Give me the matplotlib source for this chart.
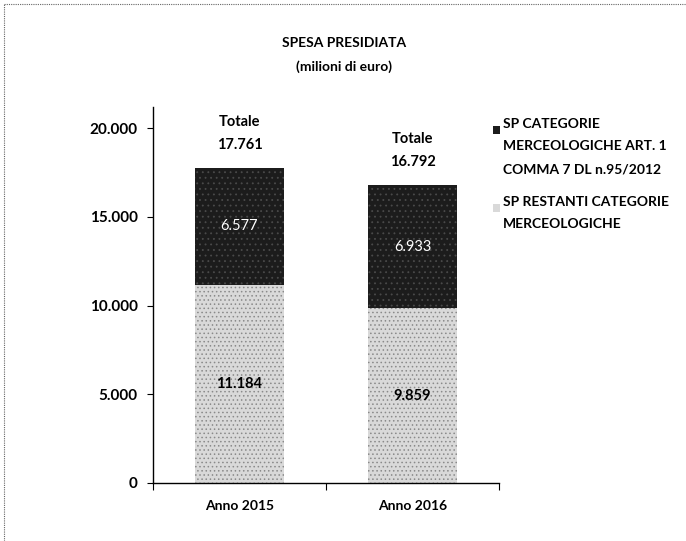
import matplotlib
matplotlib.use("Agg")
import matplotlib.pyplot as plt
from matplotlib.lines import Line2D
from matplotlib.patches import Rectangle

plt.rcParams['font.family'] = ['Lato', 'DejaVu Sans']
plt.rcParams['hatch.linewidth'] = 0.6

categories = ["Anno 2015", "Anno 2016"]
restanti = [11184, 9859]
art1 = [6577, 6933]
totali = [17761, 16792]
series_names = ["SP CATEGORIE\nMERCEOLOGICHE ART. 1\nCOMMA 7 DL n.95/2012",
                "SP RESTANTI CATEGORIE\nMERCEOLOGICHE"]
yticks = [0, 5000, 10000, 15000, 20000]
ytick_labels = ["0", "5.000", "10.000", "15.000", "20.000"]

LIGHT = dict(color="#d9d9d9", edgecolor="#8a8a8a", hatch="....", linewidth=0)
DARK = dict(color="#1c1c1c", edgecolor="#4a4a4a", hatch="...", linewidth=0)


def fmt(v):
    return f"{v:,}".replace(",", ".")


fig = plt.figure(figsize=(6.86, 5.41), dpi=100)
ax = fig.add_axes([153/686, 1-483/541, (499-153)/686, (483-107)/541])

x = list(range(len(categories)))
b1 = ax.bar(x, restanti, width=0.51, **LIGHT)
b2 = ax.bar(x, art1, bottom=restanti, width=0.51, **DARK)

for i in x:
    ax.text(i, restanti[i]/2, fmt(restanti[i]), ha="center", va="center",
            fontsize=10.5, fontweight="bold", color="black")
    ax.text(i, restanti[i] + art1[i]/2, fmt(art1[i]), ha="center", va="center",
            fontsize=10.5, color="white")
    ax.annotate("Totale\n" + fmt(totali[i]), (i, totali[i]), xytext=(0, 11.5),
                textcoords="offset points", ha="center", va="bottom",
                fontsize=10.5, fontweight="bold", linespacing=1.85)

ax.set_xlim(-0.5, 1.5)
ax.set_ylim(0, 21200)
ax.set_yticks(yticks)
ax.set_yticklabels(ytick_labels, fontsize=11, fontweight="bold")
ax.set_xticks([-0.5, 0.5, 1.5], minor=False)
ax.set_xticklabels(["", "", ""])
ax.set_xticks(x, minor=True)
ax.set_xticklabels(categories, minor=True, fontsize=10, fontweight="bold")
ax.tick_params(axis="x", which="minor", length=0, pad=12)
ax.tick_params(axis="x", which="major", length=5, direction="out")
ax.tick_params(axis="y", length=4, direction="out", pad=7)
for s in ["top", "right"]:
    ax.spines[s].set_visible(False)
for s in ["left", "bottom"]:
    ax.spines[s].set_linewidth(1.0)

fig.text(0.502, 1-55/541, "SPESA PRESIDIATA\n(milioni di euro)", ha="center",
         va="center", fontsize=10, fontweight="bold", linespacing=2.15)

# legend (swatch aligned with first line of each label)
leg_items = [(series_names[0], DARK, 130), (series_names[1], LIGHT, 208)]
for label, style, ytop in leg_items:
    fig.add_artist(Rectangle((493/686, 1-(ytop+3.5)/541), 7/686, 7/541,
                             transform=fig.transFigure, **style))
    fig.text(503/686, 1-(ytop-12)/541, label, ha="left", va="top",
             fontsize=10, fontweight="bold", linespacing=2.05)

# scanned page frame (top and left)
fig.add_artist(Line2D([0.006, 1.0], [0.992, 0.992], transform=fig.transFigure,
                      color="#666666", linewidth=0.8, linestyle=(0, (1, 1))))
fig.add_artist(Line2D([0.006, 0.006], [0.0, 0.992], transform=fig.transFigure,
                      color="#666666", linewidth=0.8, linestyle=(0, (1, 1))))

fig.savefig("out.png", dpi=100)
